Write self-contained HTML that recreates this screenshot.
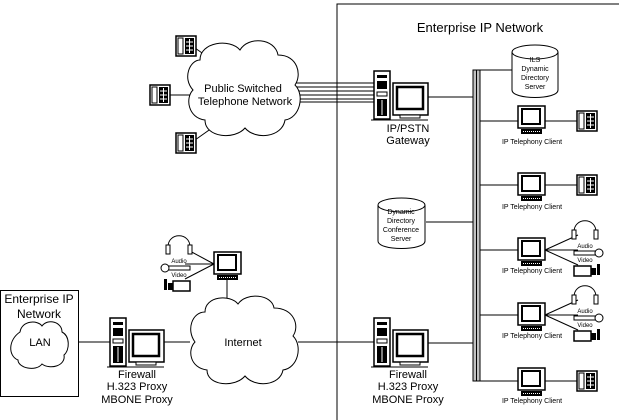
<!DOCTYPE html>
<html><head><style>
html,body{margin:0;padding:0;background:#fff;}
svg{display:block;font-family:"Liberation Sans",Arial,sans-serif;}
</style></head><body>
<svg width="619" height="420" viewBox="0 0 619 420" xmlns="http://www.w3.org/2000/svg">
<defs>
<g id="phone">
<rect x="0" y="0" width="20" height="20" fill="#fff" stroke="#000" stroke-width="1.5"/>
<rect x="2" y="2" width="5" height="16" fill="#fff" stroke="#000"/>
<rect x="9" y="2" width="9" height="16" fill="#000"/>
<line x1="10" y1="6" x2="17" y2="6" stroke="#fff"/><line x1="10" y1="10" x2="17" y2="10" stroke="#fff"/><line x1="10" y1="14" x2="17" y2="14" stroke="#fff"/>
<line x1="13.5" y1="3" x2="13.5" y2="17" stroke="#fff"/>
</g>
<g id="mon">
<rect x="0" y="0" width="27" height="22" fill="#fff" stroke="#000" stroke-width="1.5"/>
<rect x="4" y="3" width="18" height="15" fill="#fff" stroke="#000" stroke-width="2"/>
<rect x="3" y="23" width="21" height="5" fill="#000"/>
<line x1="5" y1="25.5" x2="22" y2="25.5" stroke="#fff" stroke-dasharray="1,1"/>
</g>
<g id="pc">
<rect x="0" y="0" width="16" height="48" fill="#fff" stroke="#000" stroke-width="1.5"/>
<rect x="3" y="4" width="10" height="3" fill="#000"/>
<rect x="3" y="10" width="10" height="8" fill="#000"/>
<rect x="3" y="21" width="10" height="4" fill="#fff" stroke="#000"/>
<rect x="3" y="28" width="10" height="17" fill="#000"/>
<line x1="8" y1="29" x2="8" y2="44" stroke="#fff"/>
<rect x="19" y="12" width="35" height="32" fill="#fff" stroke="#000" stroke-width="1.5"/>
<rect x="23" y="16" width="26" height="22" fill="#fff" stroke="#000" stroke-width="2.5"/>
<rect x="26" y="44" width="20" height="3" fill="#fff" stroke="#000"/>
<line x1="-3" y1="49" x2="54" y2="49" stroke="#000"/>
</g>
<g id="avs">
<path d="M0,12 C0,-3 22,-3 22,12" fill="none" stroke="#000"/>
<rect x="-2" y="10" width="4" height="9" fill="#fff" stroke="#000"/>
<rect x="20" y="10" width="4" height="9" fill="#fff" stroke="#000"/>
<rect x="0" y="31" width="22" height="4" fill="#fff" stroke="#000"/>
<circle cx="25" cy="33" r="4" fill="#fff" stroke="#000"/>
<rect x="0" y="46" width="17" height="10" fill="#fff" stroke="#000" stroke-width="1.5"/>
<rect x="17" y="48" width="5" height="7" fill="#000"/>
<rect x="23" y="44" width="3" height="11" fill="#000"/>
</g>
</defs>
<g stroke="#000" stroke-width="1" fill="none">
<polyline points="337,420 337,4 619,4"/>
<rect x="0.5" y="290.5" width="78" height="106"/>
<rect x="473" y="70" width="7" height="311" fill="#c0c0c0"/>
<line x1="476.5" y1="70" x2="476.5" y2="381"/>
<line x1="480" y1="70" x2="512" y2="70"/>
<line x1="428" y1="97" x2="473" y2="97"/>
<line x1="426" y1="222" x2="473" y2="222"/>
<line x1="428" y1="343" x2="473" y2="343"/>
<line x1="480" y1="121" x2="518" y2="121"/><line x1="545" y1="121" x2="577" y2="121"/>
<line x1="480" y1="185" x2="518" y2="185"/><line x1="545" y1="185" x2="577" y2="185"/>
<line x1="480" y1="250" x2="518" y2="250"/>
<line x1="480" y1="315" x2="518" y2="315"/>
<line x1="480" y1="381" x2="518" y2="381"/><line x1="545" y1="381" x2="577" y2="381"/>
<line x1="78" y1="342" x2="110" y2="342"/>
<line x1="163" y1="342" x2="190" y2="342"/>
<line x1="298" y1="342" x2="375" y2="342"/>
<line x1="227" y1="277" x2="227" y2="302"/>
<line x1="295" y1="83" x2="375" y2="83"/><line x1="296" y1="87" x2="375" y2="87"/>
<line x1="297" y1="91" x2="375" y2="91"/><line x1="297" y1="95" x2="375" y2="95"/>
<line x1="296" y1="99" x2="375" y2="99"/><line x1="294" y1="102" x2="375" y2="102"/>
<line x1="195" y1="48" x2="212" y2="60"/>
<line x1="170" y1="95" x2="190" y2="95"/>
<line x1="195" y1="140" x2="212" y2="128"/>
<line x1="545" y1="250" x2="578" y2="235"/><line x1="545" y1="250" x2="578" y2="250"/><line x1="545" y1="250" x2="578" y2="265"/>
<line x1="545" y1="315" x2="578" y2="300"/><line x1="545" y1="315" x2="578" y2="315"/><line x1="545" y1="315" x2="578" y2="330"/>
<line x1="214" y1="264" x2="188" y2="250"/><line x1="214" y1="264" x2="185" y2="264"/><line x1="214" y1="264" x2="185" y2="279"/>
</g>
<g fill="#fff" stroke="#000" stroke-width="1">
<path d="M200,60 C200,42 230,38 240,50 C248,36 275,38 278,55 C298,55 302,75 295,85 C305,95 300,118 285,120 C282,138 255,140 245,128 C235,140 205,138 205,120 C188,118 185,98 193,90 C182,78 190,60 200,60 Z"/>
<path d="M205,312 C205,296 230,294 238,304 C246,292 272,294 274,308 C294,308 300,326 293,336 C303,346 298,368 283,370 C280,386 255,388 245,376 C235,388 207,386 207,370 C190,368 187,350 195,342 C186,330 192,312 205,312 Z"/>
<path d="M20,332 C22,320 38,320 42,326 C48,318 62,322 62,332 C70,336 70,350 64,355 C66,366 50,370 42,364 C36,372 18,368 18,360 C8,356 8,340 20,332 Z"/>
<path d="M378,205 L378,241 C378,251 425,251 425,241 L425,205"/>
<ellipse cx="401.5" cy="205" rx="23.5" ry="7"/>
<path d="M512,52 L512,90 C512,100 558,100 558,90 L558,52"/>
<ellipse cx="535" cy="52" rx="23" ry="7"/>
</g>
<use href="#phone" x="176" y="36"/>
<use href="#phone" x="150" y="85"/>
<use href="#phone" x="176" y="133"/>
<use href="#phone" x="577" y="111"/>
<use href="#phone" x="577" y="175"/>
<use href="#phone" x="577" y="371"/>
<use href="#mon" x="518" y="106"/>
<use href="#mon" x="518" y="173"/>
<use href="#mon" x="518" y="238"/>
<use href="#mon" x="518" y="303"/>
<use href="#mon" x="518" y="368"/>
<use href="#mon" x="214" y="252"/>
<use href="#pc" x="374" y="71"/>
<use href="#pc" x="374" y="318"/>
<use href="#pc" x="110" y="318"/>
<use href="#avs" x="574" y="220"/>
<use href="#avs" x="574" y="285"/>
<g transform="translate(190,235) scale(-1,1)"><use href="#avs" x="0" y="0"/></g>
<g font-size="11" text-anchor="middle" fill="#000">
<text x="480" y="32" font-size="13">Enterprise IP Network</text>
<text x="243" y="92">Public Switched</text>
<text x="245" y="105">Telephone Network</text>
<text x="408" y="132">IP/PSTN</text>
<text x="408" y="144">Gateway</text>
<text x="408" y="378">Firewall</text>
<text x="408" y="390">H.323 Proxy</text>
<text x="408" y="403">MBONE Proxy</text>
<text x="137" y="378">Firewall</text>
<text x="137" y="390">H.323 Proxy</text>
<text x="137" y="403">MBONE Proxy</text>
<text x="243" y="346">Internet</text>
<text x="40" y="346">LAN</text>
<text x="39" y="303" font-size="12">Enterprise IP</text>
<text x="39" y="318" font-size="12">Network</text>
</g>
<g font-size="7" text-anchor="middle" fill="#000">
<text x="535" y="62">ILS</text><text x="535" y="71">Dynamic</text><text x="535" y="80">Directory</text><text x="535" y="89">Server</text>
<text x="401" y="214">Dynamic</text><text x="401" y="223">Directory</text><text x="401" y="232">Conference</text><text x="401" y="241">Server</text>
<text x="532" y="144">IP Telephony Client</text>
<text x="532" y="209">IP Telephony Client</text>
<text x="532" y="273">IP Telephony Client</text>
<text x="532" y="338">IP Telephony Client</text>
<text x="532" y="403">IP Telephony Client</text>
</g>
<g font-size="6" text-anchor="middle" fill="#000">
<text x="585" y="248">Audio</text><text x="585" y="262">Video</text>
<text x="585" y="313">Audio</text><text x="585" y="327">Video</text>
<text x="179" y="263">Audio</text><text x="179" y="277">Video</text>
</g>
</svg>
</body></html>
